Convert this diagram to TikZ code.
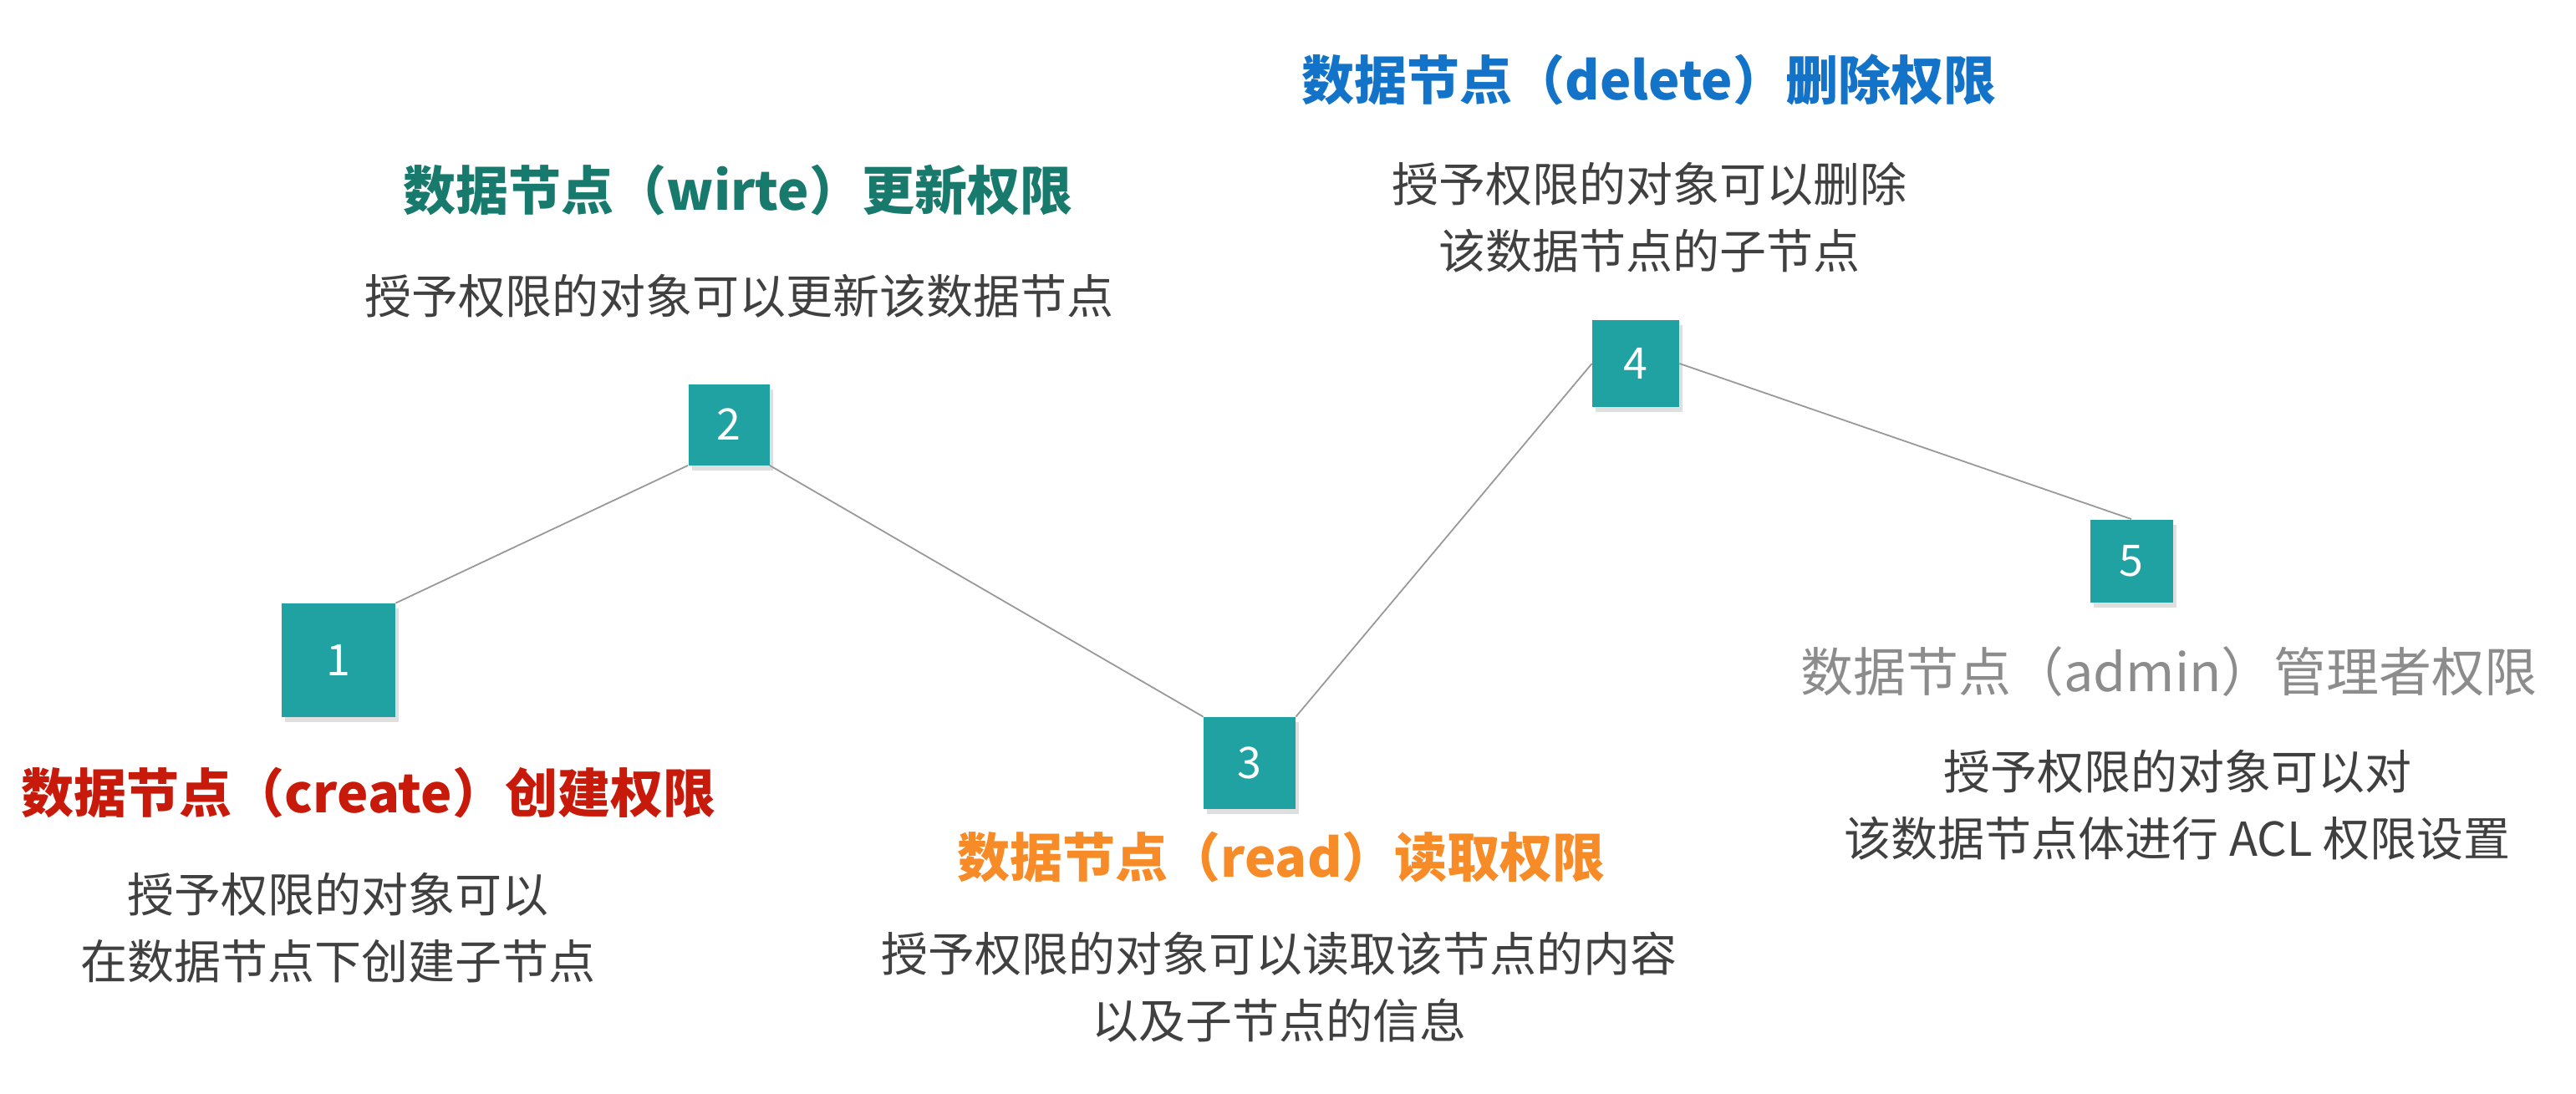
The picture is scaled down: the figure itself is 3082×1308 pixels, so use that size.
\documentclass[tikz,border=0pt]{standalone}
\usepackage{fontspec}
\usepackage{xcolor}
\setmainfont{Noto Sans CJK SC}
\usetikzlibrary{shadows}

\definecolor{boxteal}{HTML}{20A2A2}
\definecolor{createred}{HTML}{C81A0A}
\definecolor{writegreen}{HTML}{177A6C}
\definecolor{readorange}{HTML}{F68B28}
\definecolor{deleteblue}{HTML}{1273C8}
\definecolor{admingray}{HTML}{8C8C8C}
\definecolor{desctext}{HTML}{404040}

\begin{document}
\begin{tikzpicture}[x=0.5pt, y=-0.5pt,
        numbox/.style={fill=boxteal, text=white, minimum size=#1, inner sep=0pt,
            font=\fontsize{26}{26}\selectfont,
            drop shadow={shadow xshift=2pt, shadow yshift=-3pt, opacity=0.25}},
        title/.style={font=\fontsize{31.5}{31.5}\selectfont\bfseries, inner sep=0pt},
        desc/.style={font=\fontsize{28}{40}\selectfont, text=desctext, align=center, inner sep=0pt},
        link/.style={draw=black!40, line width=0.9pt}]
    \useasboundingbox (0, 0) rectangle (3082, 1308);

    % numbered boxes
    \node[numbox=68pt] (n1) at (405, 790) {1};
    \node[numbox=48.5pt] (n2) at (872, 508) {2};
    \node[numbox=55pt] (n3) at (1495, 913) {3};
    \node[numbox=52pt] (n4) at (1957, 435) {4};
    \node[numbox=49.5pt] (n5) at (2550, 671) {5};

    \draw[link] (n1.north east) -- (n2.south west);
    \draw[link] (n2.south east) -- (n3.north west);
    \draw[link] (n3.north east) -- (n4.west);
    \draw[link] (n4.east) -- (n5.north);

    % titles
    \node[title, text=createred] (t1) at (441, 949) {数据节点（create）创建权限};
    \node[title, text=writegreen] (t2) at (883, 228) {数据节点（wirte）更新权限};
    \node[title, text=readorange] (t3) at (1533, 1026) {数据节点（read）读取权限};
    \node[title, text=deleteblue] (t4) at (1973, 95) {数据节点（delete）删除权限};
    \node[title, text=admingray, font=\fontsize{31.5}{31.5}\selectfont] (t5) at (2595, 804) {数据节点（admin）管理者权限};

    % descriptions
    \node[desc] (d1) at (404, 1110) {授予权限的对象可以\\在数据节点下创建子节点};
    \node[desc] (d2) at (884, 354) {授予权限的对象可以更新该数据节点};
    \node[desc] (d3) at (1530, 1181) {授予权限的对象可以读取该节点的内容\\以及子节点的信息};
    \node[desc] (d4) at (1973, 260) {授予权限的对象可以删除\\该数据节点的子节点};
    \node[desc] (d5) at (2605, 963) {授予权限的对象可以对\\该数据节点体进行 ACL 权限设置};
\end{tikzpicture}
\end{document}
